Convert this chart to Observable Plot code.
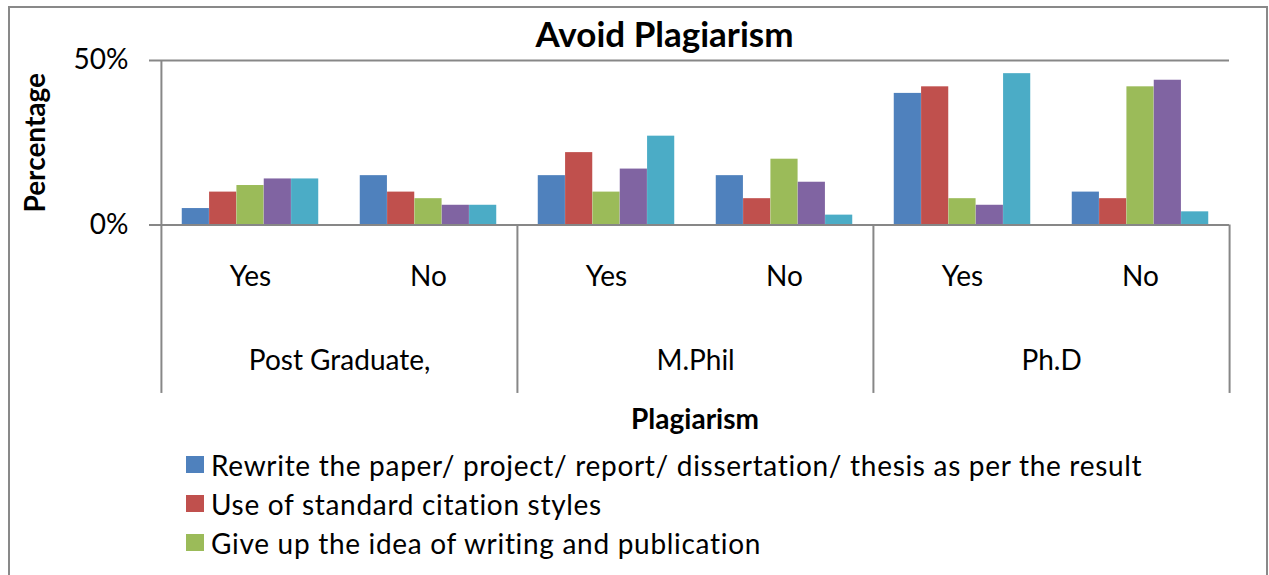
<!DOCTYPE html>
<html>
<head>
<meta charset="utf-8">
<script src="https://cdn.jsdelivr.net/npm/d3@7"></script>
<script src="https://cdn.jsdelivr.net/npm/@observablehq/plot@0.6"></script>
<style>
html, body { margin: 0; padding: 0; background: #fff; }
#wrap { position: relative; width: 1269px; height: 575px; overflow: hidden; font-family: Lato, sans-serif; background: #fff; }
#chart { position: absolute; left: 0; top: 0; }
#border { position: absolute; left: 8px; top: 6px; width: 1260px; height: 620px; border: 2px solid #898989; box-sizing: border-box; pointer-events: none; }
#legend { position: absolute; left: 186px; top: 445px; }
.item { display: flex; align-items: center; height: 39px; font-size: 28px; letter-spacing: 0.7px; color: #000; white-space: nowrap; }
.sw { width: 18px; height: 17px; margin-right: 7px; flex: none; }
</style>
</head>
<body>
<div id="wrap">
  <div id="chart"></div>
  <div id="legend"></div>
  <div id="border"></div>
</div>
<script>
// ---- data ----
const groups = ["Post Graduate,", "M.Phil", "Ph.D"];
const answers = ["Yes", "No"];
const seriesNames = [
  "Rewrite the paper/ project/ report/ dissertation/ thesis as per the result",
  "Use of standard citation styles",
  "Give up the idea of writing and publication",
  "Series 4",
  "Series 5"
];
const seriesColors = ["#4F81BD", "#C0504D", "#9BBB59", "#8064A2", "#4BACC6"];
// values in % for cells: PG Yes, PG No, M.Phil Yes, M.Phil No, Ph.D Yes, Ph.D No
const rewriteValues  = [5, 15, 15, 15, 40, 10];
const citationValues = [10, 10, 22, 8, 42, 8];
const giveUpValues   = [12, 8, 10, 20, 8, 42];
const series4Values  = [14, 6, 17, 13, 6, 44];
const series5Values  = [14, 6, 27, 3, 46, 4];
const yTicks = [0, 50];
const legendVisible = 3;

// ---- build table ----
const allValues = [rewriteValues, citationValues, giveUpValues, series4Values, series5Values];
const cells = groups.flatMap(g => answers.map(a => g + "|" + a));
const rows = [];
allValues.forEach((vals, si) => vals.forEach((v, ci) => rows.push({series: seriesNames[si], cell: cells[ci], value: v})));

// ---- layout ----
const W = 1269, H = 440, mL = 160, mR = 40, mT = 60, mB = 215.5;
const step = (W - mL - mR) / cells.length;
const groupFrac = 0.767;
const bw = step * groupFrac / seriesNames.length;
const pad = (step - bw * seriesNames.length) / 2;
const axisColor = "#878787";
const sepBottom = -51.2;

const bars = seriesNames.map((s, i) =>
  Plot.barY(rows.filter(r => r.series === s), {
    x: "cell", y: "value", fill: seriesColors[i],
    insetLeft: pad + i * bw, insetRight: step - pad - (i + 1) * bw
  })
);

const groupStarts = cells.filter((k, i) => i % answers.length === 0);

const chart = Plot.plot({
  width: W, height: H,
  marginLeft: mL, marginRight: mR, marginTop: mT, marginBottom: mB,
  style: {fontFamily: "Lato, sans-serif", background: "transparent", color: "#000"},
  x: {domain: cells, padding: 0, axis: null},
  y: {domain: [0, 50], axis: null},
  marks: [
    Plot.ruleY(yTicks, {stroke: axisColor, strokeWidth: 2, insetLeft: -11}),
    ...bars,
    Plot.ruleY([0], {stroke: axisColor, strokeWidth: 2, insetLeft: -11}),
    Plot.ruleX([cells[0]], {x: d => d, y1: 0, y2: 50, dx: -step / 2, stroke: axisColor, strokeWidth: 2}),
    Plot.ruleX(groupStarts, {x: d => d, y1: 0, y2: sepBottom, dx: -step / 2, stroke: axisColor, strokeWidth: 2}),
    Plot.ruleX([cells[cells.length - 1]], {x: d => d, y1: 0, y2: sepBottom, dx: step / 2, stroke: axisColor, strokeWidth: 2}),
    Plot.axisY({ticks: yTicks, tickFormat: d => d + "%", tickSize: 0, tickPadding: 32, fontSize: 28, label: null}),
    Plot.axisX({tickSize: 0, tickPadding: 41, tickFormat: k => k.split("|")[1], fontSize: 28, label: null}),
    Plot.text(groupStarts, {x: d => d, text: d => d.split("|")[0], frameAnchor: "bottom", lineAnchor: "middle", dx: step / 2, dy: 136.5, fontSize: 28}),
    Plot.text(["Plagiarism"], {frameAnchor: "bottom", lineAnchor: "middle", dy: 195.5, fontSize: 28, fontWeight: "bold"}),
    Plot.text(["Avoid Plagiarism"], {frameAnchor: "top", lineAnchor: "middle", dx: -30.5, dy: -24.5, fontSize: 35, fontWeight: "bold"}),
    Plot.text(["Percentage"], {frameAnchor: "left", textAnchor: "middle", lineAnchor: "middle", dx: -124, rotate: -90, fontSize: 28, fontWeight: "bold"})
  ]
});
document.getElementById("chart").appendChild(chart);

// ---- legend ----
const legend = document.getElementById("legend");
seriesNames.slice(0, legendVisible).forEach((name, i) => {
  const item = document.createElement("div");
  item.className = "item";
  const sw = document.createElement("span");
  sw.className = "sw";
  sw.style.background = seriesColors[i];
  const t = document.createElement("span");
  t.textContent = name;
  item.appendChild(sw);
  item.appendChild(t);
  legend.appendChild(item);
});
</script>
</body>
</html>
